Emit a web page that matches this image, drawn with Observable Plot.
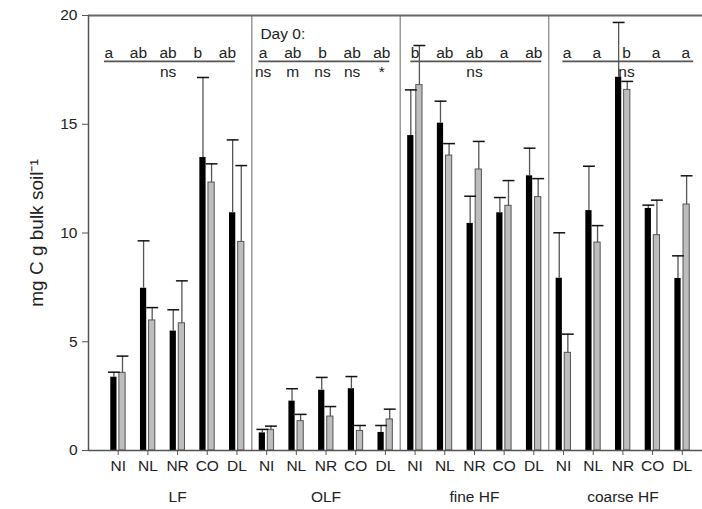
<!DOCTYPE html>
<html>
<head>
<meta charset="utf-8">
<script src="https://cdn.jsdelivr.net/npm/d3@7"></script>
<script src="https://cdn.jsdelivr.net/npm/@observablehq/plot@0.6"></script>
<style>
  body { margin: 0; background: #fff; }
  #chart svg { font-family: "Liberation Sans", Arial, sans-serif; }
</style>
</head>
<body>
<div id="chart"></div>
<script>
// Soil organic matter fractions and treatments
const fractions = ["LF", "OLF", "fine HF", "coarse HF"];
const treatments = ["NI", "NL", "NR", "CO", "DL"];

// Black bars: mean and upper error, 5 treatments per fraction
const blackMean = [3.37, 7.46, 5.49, 13.47, 10.93,
                   0.81, 2.27, 2.77, 2.84, 0.83,
                   14.48, 15.05, 10.44, 10.93, 12.63,
                   7.92, 11.03, 17.16, 11.13, 7.91];
const blackErr  = [0.23, 2.18, 0.98, 3.68, 3.35,
                   0.16, 0.57, 0.59, 0.56, 0.32,
                   2.10, 1.01, 1.25, 0.70, 1.27,
                   2.09, 2.04, 2.52, 0.15, 1.04];

// Grey bars: mean and upper error
const greyMean  = [3.57, 5.98, 5.85, 12.32, 9.59,
                   0.95, 1.35, 1.56, 0.90, 1.43,
                   16.80, 13.56, 12.92, 11.25, 11.65,
                   4.49, 9.56, 16.58, 9.90, 11.31];
const greyErr   = [0.77, 0.59, 1.95, 0.86, 3.51,
                   0.17, 0.31, 0.46, 0.25, 0.47,
                   1.82, 0.55, 1.29, 1.16, 0.85,
                   0.86, 0.78, 0.39, 1.61, 1.32];

// Significance letters per fraction, and the tests written beneath them
const letters = [["a", "ab", "ab", "b", "ab"],
                 ["a", "ab", "b", "ab", "ab"],
                 ["b", "ab", "ab", "a", "ab"],
                 ["a", "a", "b", "a", "a"]];
const fractionTest = ["ns", null, "ns", "ns"];
const day0Label = "Day 0:";
const day0Tests = ["ns", "m", "ns", "ns", "*"];
const yTicks = [0, 5, 10, 15, 20];
const yLabel = "mg C g bulk soil⁻¹";

// one row per bar pair, placed at slot 1..20
const rows = blackMean.map((b, i) => ({
  pos: i + 1,
  fraction: fractions[Math.floor(i / 5)],
  treatment: treatments[i % 5],
  black: b, blackTop: b + blackErr[i],
  grey: greyMean[i], greyTop: greyMean[i] + greyErr[i]
}));

// horizontal nudge of the letter rows within each fraction
const shift = [-0.32, -0.12, 0, 0.12];
const letterRows = letters.flatMap((ls, p) => ls.map((t, k) => ({t, x: p * 5 + k + 1 + shift[p]})));
const underlines = letters.map((ls, p) => ({x1: p * 5 + 1 - 0.16 + shift[p], x2: p * 5 + 5 + 0.25 + shift[p]}));
const testRows = fractionTest.map((t, p) => ({t, x: p * 5 + 3 + shift[p]})).filter(d => d.t);
const dayRows = day0Tests.map((t, k) => ({t, x: 5 + k + 1 + shift[1]}));

const bw = 0.21, gap = 0.04, cap = 0.2;
const blackC = d => d.pos - gap - bw / 2;
const greyC = d => d.pos + gap + bw / 2;

const chart = Plot.plot({
  width: 702,
  height: 509,
  marginLeft: 88,
  marginRight: 0,
  marginTop: 15,
  marginBottom: 59,
  x: {domain: [0, 20.68], axis: null},
  y: {domain: [0, 20], axis: null},
  style: {fontFamily: "Liberation Sans, Arial, sans-serif", background: "#fff"},
  marks: [
    // fraction dividers
    Plot.ruleX([5.5, 10.5, 15.5], {y1: 0, y2: 20, stroke: "#9a9a9a", strokeWidth: 1.5}),
    // bars
    Plot.rectY(rows, {x1: d => d.pos - gap - bw, x2: d => d.pos - gap, y1: 0, y2: "black", fill: "#000"}),
    Plot.rectY(rows, {x1: d => d.pos + gap, x2: d => d.pos + gap + bw, y1: 0, y2: "grey", fill: "#bdbdbd", stroke: "#555", strokeWidth: 1}),
    // upper error bars
    Plot.ruleX(rows, {x: blackC, y1: "black", y2: "blackTop", stroke: "#555", strokeWidth: 1.3}),
    Plot.link(rows, {x1: d => blackC(d) - cap, x2: d => blackC(d) + cap, y1: "blackTop", y2: "blackTop", stroke: "#111", strokeWidth: 1.5}),
    Plot.ruleX(rows, {x: greyC, y1: "grey", y2: "greyTop", stroke: "#555", strokeWidth: 1.3}),
    Plot.link(rows, {x1: d => greyC(d) - cap, x2: d => greyC(d) + cap, y1: "greyTop", y2: "greyTop", stroke: "#111", strokeWidth: 1.5}),
    // frame
    Plot.ruleY([20], {stroke: "#666", strokeWidth: 2}),
    Plot.ruleY([0], {stroke: "#555", strokeWidth: 1.5}),
    Plot.ruleX([0], {y1: 0, y2: 20, stroke: "#555", strokeWidth: 1.5}),
    // axes
    Plot.axisY({ticks: yTicks, tickSize: 6, tickPadding: 5, fontSize: 15.5, label: null, stroke: "#555", fill: "#222"}),
    Plot.axisX({ticks: d3.range(1, 21), tickFormat: i => treatments[(i - 1) % 5], tickSize: 5, tickPadding: 4, fontSize: 15.5, label: null, stroke: "#555", fill: "#222"}),
    Plot.text(fractions, {x: (d, i) => i * 5 + 3, y: 0, dy: 40, lineAnchor: "top", fontSize: 15.5, fill: "#222"}),
    Plot.text([yLabel], {frameAnchor: "left", textAnchor: "middle", dx: -52, rotate: -90, fontSize: 19, fill: "#222"}),
    // significance annotations
    Plot.text(letterRows, {x: "x", y: 18.05, text: "t", lineAnchor: "bottom", fontSize: 15.5, fill: "#222"}),
    Plot.link(underlines, {x1: "x1", x2: "x2", y1: 17.89, y2: 17.89, stroke: "#555", strokeWidth: 1.6}),
    Plot.text(testRows, {x: "x", y: 17.15, text: "t", lineAnchor: "bottom", fontSize: 15.5, fill: "#222"}),
    Plot.text(dayRows, {x: "x", y: 17.15, text: "t", lineAnchor: "bottom", fontSize: 15.5, fill: "#222"}),
    Plot.text([day0Label], {x: 5.79, y: 18.9, lineAnchor: "bottom", textAnchor: "start", fontSize: 15.5, fill: "#222"})
  ]
});
document.getElementById("chart").append(chart);
</script>
</body>
</html>
